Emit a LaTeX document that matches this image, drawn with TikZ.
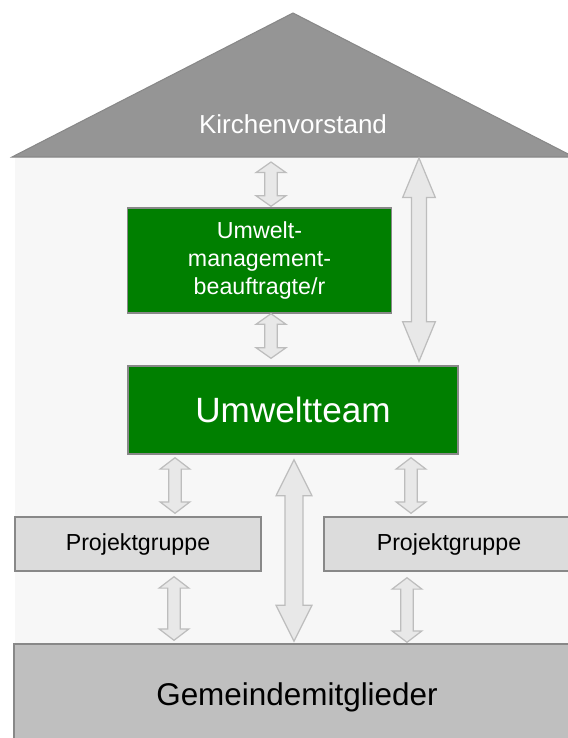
\documentclass[tikz,border=0pt]{standalone}
\usepackage{fontspec}
\setmainfont{Liberation Sans}
\usetikzlibrary{calc}
\definecolor{dachgrau}{HTML}{959595}
\definecolor{rahmen}{HTML}{888888}
\definecolor{umweltgruen}{HTML}{007F00}
\definecolor{gruppengrau}{HTML}{DCDCDC}
\definecolor{gemeindegrau}{HTML}{BFBFBF}
\definecolor{pfeilgrau}{HTML}{E8E8E8}
\definecolor{pfeilrand}{HTML}{BDBDBD}
\definecolor{hausgrau}{HTML}{F7F7F7}
% #1 top, #2 bottom, #3 half shaft, #4 half head, #5 head length
\newcommand{\dblarrow}[5]{\draw[dbl] let \p1=#1, \p2=#2 in (\x1,\y1) -- (\x1+#4,\y1-#5) -- (\x1+#3,\y1-#5) -- (\x1+#3,\y2+#5) -- (\x1+#4,\y2+#5) -- (\x1,\y2) -- (\x1-#4,\y2+#5) -- (\x1-#3,\y2+#5) -- (\x1-#3,\y1-#5) -- (\x1-#4,\y1-#5) -- cycle;}
\begin{document}
\begin{tikzpicture}[x=0.02cm,y=-0.02cm,dach/.style={fill=dachgrau, draw=rahmen, line width=0.6pt},greenbox/.style={rectangle, fill=umweltgruen, draw=rahmen, line width=0.8pt, text=white, inner sep=0pt},groupbox/.style={rectangle, fill=gruppengrau, draw=rahmen, line width=0.8pt, inner sep=0pt, minimum width=4.92cm, minimum height=1.08cm, font=\fontsize{13.2}{16}\selectfont},dbl/.style={fill=pfeilgrau, draw=pfeilrand, line width=0.7pt, line join=miter},]
            \clip (0,0) rectangle (568,738);
            \fill[hausgrau] (14.7,157) rectangle (568,644);
            \draw[dach] (12,157) -- (293,13) -- (574,157) -- cycle;
            \coordinate (traufe) at (293,157);
            \node[text=white, font=\fontsize{14.8}{17}\selectfont] (kv) at (293,124) {Kirchenvorstand};
            \node[greenbox, minimum width=5.28cm, minimum height=2.1cm, align=center, font=\fontsize{13.2}{16}\selectfont] (umb) at (259.5,260.5) {Umwelt-\\management-\\beauftragte/r};
            \node[greenbox, minimum width=6.6cm, minimum height=1.76cm, font=\fontsize{20}{24}\selectfont] (team) at (293,410) {Umweltteam};
            \node[groupbox] (pg1) at (138,544) {Projektgruppe};
            \node[groupbox, minimum width=5cm] (pg2) at (449,544) {Projektgruppe};
            \node[rectangle, fill=gemeindegrau, draw=rahmen, line width=0.8pt, inner sep=0pt, minimum width=11.32cm, minimum height=2.12cm, font=\fontsize{17.9}{21}\selectfont] (gm) at (297,697) {Gemeindemitglieder};
            \dblarrow{($(traufe)+(-22,5)$)}{($(umb.north)+(11.5,-1)$)}{3.6pt}{8.5pt}{6pt}
            \dblarrow{($(umb.south)+(11.5,0)$)}{($(team.north)+(-22,-7)$)}{3.6pt}{8.5pt}{6pt}
            \dblarrow{($(traufe)+(126,1)$)}{($(team.north)+(126,-4)$)}{4.3pt}{9.3pt}{22.5pt}
            \dblarrow{($(team.south)+(-118,3)$)}{($(pg1.north)+(37,-3)$)}{3.6pt}{8.5pt}{6.5pt}
            \dblarrow{($(team.south)+(118,3)$)}{($(pg2.north)+(-38,-3)$)}{3.6pt}{8.5pt}{6.5pt}
            \dblarrow{($(team.south)+(1,5)$)}{($(gm.north)+(-3,-2)$)}{5.1pt}{10.2pt}{20.5pt}
            \dblarrow{($(pg1.south)+(36,5)$)}{($(gm.north)+(-123,-3)$)}{3.6pt}{8.5pt}{6.5pt}
            \dblarrow{($(pg2.south)+(-42,6)$)}{($(gm.north)+(110,-1)$)}{3.6pt}{8.5pt}{6.5pt}
        \end{tikzpicture}
\end{document}
